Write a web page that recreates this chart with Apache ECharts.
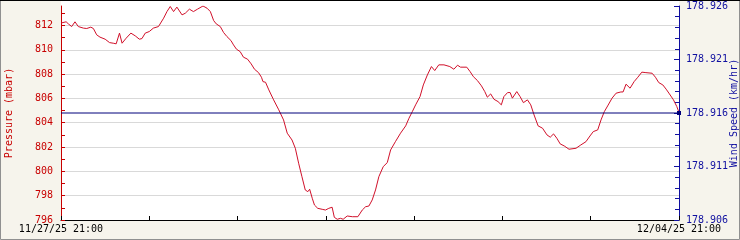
<!DOCTYPE html>
<html>
<head>
<meta charset="utf-8">
<script src="https://cdn.jsdelivr.net/npm/echarts@6/dist/echarts.min.js"></script>
<style>
html,body{margin:0;padding:0;background:#f6f4ec;}
#chart{width:740px;height:240px;}
</style>
</head>
<body>
<div id="chart"></div>
<script>
// hours since 11/27/25 21:00
var hours = [0,1.4,2.0,2.9,3.8,4.7,6.1,7.0,8.1,8.8,9.7,10.6,12.0,13.2,14.2,15.0,15.9,16.6,17.7,19.0,
  20.2,21.3,22.0,22.9,24.0,25.1,26.5,27.0,27.9,28.8,29.7,30.6,31.5,32.9,33.8,34.9,36.0,37.1,38.6,39.7,
  40.6,41.5,42.2,43.3,44.2,45.1,46.2,46.9,47.7,48.7,49.6,50.7,51.7,52.6,53.7,54.5,54.9,55.6,56.5,57.8,
  59.2,60.5,61.5,62.8,63.7,64.6,65.5,66.4,67.1,67.6,68.3,68.9,69.8,71.0,71.9,72.8,73.7,74.3,75.1,76.0,
  76.7,77.8,79.2,80.7,81.9,82.8,83.7,84.6,85.5,86.4,87.6,88.7,89.6,90.9,92.3,93.7,94.6,95.5,96.4,97.6,
  98.5,99.6,100.7,101.6,102.7,104.1,105.7,106.8,107.8,108.6,110.3,111.2,112.1,113.2,114.3,115.2,115.9,116.8,117.7,118.8,
  119.7,120.4,121.4,122.1,122.7,123.9,124.8,125.7,126.8,127.7,128.6,129.7,130.9,132.1,133.0,133.9,134.8,135.7,136.8,138.1,
  140.0,141.3,142.7,143.8,144.7,145.9,146.8,147.7,148.6,149.8,150.9,152.2,152.8,153.6,154.7,155.8,156.8,157.9,159.0,160.7,
  161.6,162.5,163.6,164.5,165.4,166.5,167.4,168];
var pressure = [812.2,812.3,812.13,811.91,812.3,811.91,811.78,811.75,811.86,811.75,811.23,811.04,810.87,810.59,810.54,810.49,811.37,810.54,810.95,811.37,
  811.14,810.87,810.92,811.37,811.5,811.78,811.91,811.97,812.6,813.14,813.56,813.14,813.51,812.87,813.01,813.34,813.14,813.34,813.6,813.42,
  813.14,812.4,812.13,811.91,811.42,811.09,810.76,810.4,810.05,809.85,809.39,809.23,808.84,808.4,808.12,807.74,807.38,807.33,806.7,805.88,
  805.06,804.23,803.14,802.58,801.9,800.67,799.56,798.47,798.33,798.53,797.79,797.23,796.96,796.88,796.82,796.96,797.05,796.22,796.06,796.14,
  796.06,796.33,796.27,796.27,796.82,797.09,797.15,797.65,798.47,799.56,800.39,800.72,801.76,802.44,803.14,803.74,804.37,804.91,805.47,806.15,
  807.11,807.93,808.62,808.29,808.76,808.76,808.62,808.4,808.73,808.57,808.57,808.21,807.79,807.47,807.03,806.56,806.1,806.37,805.93,805.74,
  805.47,806.15,806.48,806.48,806.02,806.56,806.15,805.65,805.88,805.47,804.64,803.74,803.55,803.0,802.81,803.08,802.72,802.26,802.09,801.82,
  801.9,802.17,802.44,802.91,803.27,803.41,804.23,804.91,805.38,806.02,806.43,806.53,806.53,807.17,806.84,807.38,807.74,808.16,808.12,808.07,
  807.74,807.3,807.11,806.76,806.37,805.88,805.33,804.85];
var windHours = [0,168];
var windSpeed = [178.916,178.916];
var xTickLabels = ['11/27/25 21:00','','','','','','','12/04/25 21:00'];

var RED = '#c80000', LINE_RED = '#d0102a', BLUE = '#1010a0', LINE_BLUE = '#00007a';
var FONT = 'DejaVu Sans Mono';

var pData = hours.map(function(h,i){return [h,pressure[i]];});
var wData = windHours.map(function(h,i){
  if (i === windHours.length-1) return {value:[h,windSpeed[i]], symbol:'rect', symbolSize:4};
  return [h,windSpeed[i]];
});

var chart = echarts.init(document.getElementById('chart'), null, {renderer:'canvas'});
chart.setOption({
  backgroundColor:'#f6f4ec',
  animation:false,
  graphic:[
    {type:'rect', z:-10, silent:true, shape:{x:61,y:1,width:618,height:219}, style:{fill:'#ffffff'}},
    {type:'rect', z:100, silent:true, shape:{x:0.5,y:0.5,width:739,height:239}, style:{fill:'none',stroke:'#909090',lineWidth:1}},
    {type:'line', z:100, silent:true, shape:{x1:0,y1:0.5,x2:740,y2:0.5}, style:{stroke:'#000000',lineWidth:1}}
  ],
  grid:{left:61,right:61,top:6,bottom:20,containLabel:false,outerBoundsMode:'none'},
  xAxis:{
    type:'value', min:0, max:168, interval:24,
    axisLine:{onZero:false, lineStyle:{color:'#000',width:1}},
    axisTick:{inside:true, length:4, lineStyle:{color:'#000'}},
    splitLine:{show:false},
    axisLabel:{
      color:'#000', fontFamily:FONT, fontSize:10, margin:4,
      formatter:function(v){var i=Math.round(v/24);return xTickLabels[i]||'';}
    }
  },
  yAxis:[
    {
      type:'value', position:'left', min:796, max:813.6, interval:1,
      name:'Pressure (mbar)', nameLocation:'middle', nameGap:47, nameRotate:90, nameMoveOverlap:false,
      nameTextStyle:{color:RED, fontFamily:FONT, fontSize:10},
      axisLine:{show:true, lineStyle:{color:RED}},
      axisTick:{show:true, inside:true, length:4, lineStyle:{color:RED}},
      splitLine:{show:false},
      axisLabel:{color:RED, fontFamily:FONT, fontSize:10, margin:8, showMaxLabel:false,
        formatter:function(v){return (Math.round(v)%2===0 && Math.abs(v-Math.round(v))<1e-6)?String(Math.round(v)):'';}}
    },
    {
      type:'value', position:'right', min:178.906, max:178.926, interval:0.005,
      name:'Wind Speed (km/hr)', nameLocation:'middle', nameGap:50, nameRotate:90, nameMoveOverlap:false,
      nameTextStyle:{color:BLUE, fontFamily:FONT, fontSize:10},
      axisLine:{show:true, lineStyle:{color:BLUE}},
      axisTick:{show:true, inside:true, length:5, lineStyle:{color:BLUE}},
      minorTick:{show:true, splitNumber:5, length:4, lineStyle:{color:BLUE}},
      splitLine:{show:false},
      axisLabel:{color:BLUE, fontFamily:FONT, fontSize:10, margin:7,
        formatter:function(v){return v.toFixed(3);}}
    },
    {
      type:'value', position:'left', min:796, max:813.6, interval:2,
      axisLine:{show:false}, axisTick:{show:false}, axisLabel:{show:false},
      splitLine:{show:true, showMinLine:false, showMaxLine:false, lineStyle:{color:'#d9d9d9',width:1}}
    }
  ],
  series:[
    {type:'line', yAxisIndex:0, data:pData, symbol:'none', lineStyle:{color:LINE_RED,width:1}, z:3},
    {type:'line', yAxisIndex:1, data:wData, symbol:'none', showSymbol:true, itemStyle:{color:LINE_BLUE},
     lineStyle:{color:LINE_BLUE,width:1}, z:4}
  ]
});
</script>
</body>
</html>
